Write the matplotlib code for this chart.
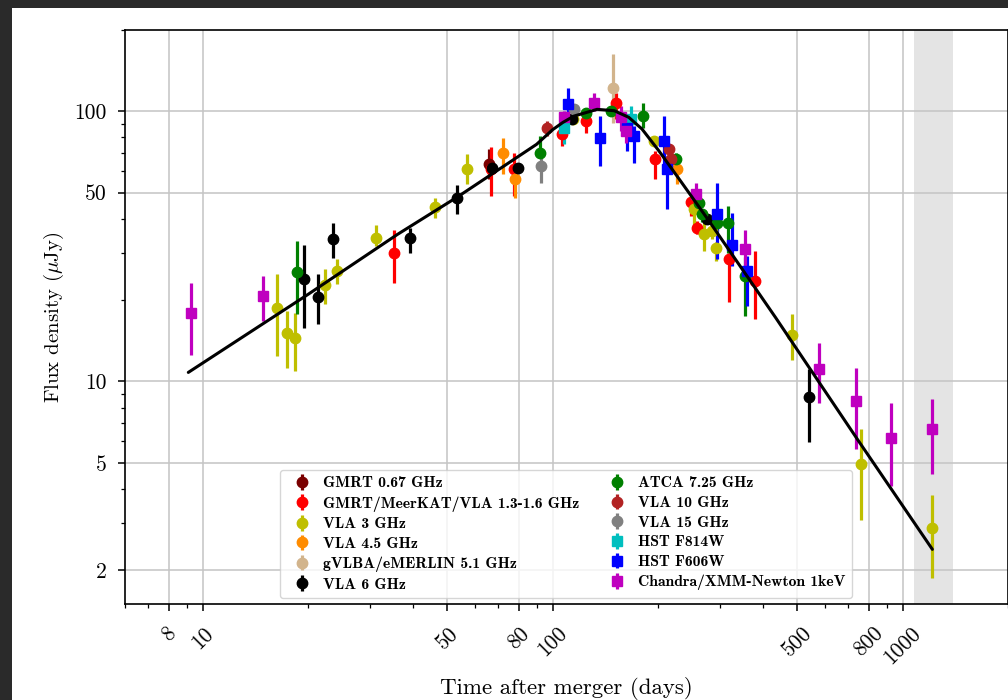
import numpy as np
import matplotlib
matplotlib.use("Agg")
import matplotlib.pyplot as plt
from matplotlib.patches import Rectangle
from matplotlib.ticker import FixedLocator, FixedFormatter, LogLocator, NullFormatter

plt.rcParams['font.family'] = ['cmr10']
plt.rcParams['mathtext.fontset'] = 'cm'
plt.rcParams['axes.unicode_minus'] = False
plt.rcParams['axes.formatter.use_mathtext'] = True

# Each measurement: (days after merger, flux density, lower bound, upper bound) in microJy
gmrt067 = [(65.8, 63.7, 56.0, 72.3)]

gmrt_meerkat_vla = [
    (35.2, 30.0, 23.1, 36.3), (66.5, 61.0, 48.4, 73.6), (77.3, 61.0, 48.6, 70.3),
    (106.6, 82.2, 74.4, 87.3), (124.2, 92.1, 83.4, 96.1), (151.4, 107.7, 93.3, 117.2),
    (195.5, 66.8, 56.0, 71.3), (249.0, 46.1, 40.9, 48.6), (258.8, 37.1, 35.0, 39.2),
    (319.0, 28.3, 19.6, 30.0), (377.6, 23.5, 17.0, 30.4),
]

vla3 = [
    (16.3, 18.7, 12.4, 24.9), (17.4, 15.1, 11.2, 18.2), (18.3, 14.5, 10.9, 17.9),
    (22.3, 22.7, 19.3, 26.0), (24.2, 25.6, 22.9, 28.3), (31.2, 34.1, 31.6, 37.8),
    (46.1, 44.4, 40.4, 47.9), (56.8, 61.4, 53.7, 69.3), (114.4, 93.3, 90.0, 97.0),
    (194.6, 77.6, 74.2, 81.0), (253.5, 43.4, 38.1, 45.2), (270.4, 35.0, 30.4, 38.8),
    (285.8, 36.1, 33.6, 38.1), (292.3, 31.3, 27.9, 32.7), (484.0, 14.8, 12.0, 17.7),
    (758.6, 4.93, 3.08, 6.64), (1216.0, 2.87, 1.88, 3.81),
]

vla45 = [(72.2, 70.3, 58.4, 79.9), (78.3, 56.0, 47.9, 60.1), (227.0, 61.0, 53.7, 64.6)]

vlbi51 = [(149.0, 122.4, 90.8, 162.6)]

vla6 = [
    (19.5, 24.0, 15.8, 32.1), (21.3, 20.6, 16.3, 24.9), (23.6, 33.6, 28.7, 38.5),
    (39.1, 34.1, 30.0, 37.1), (53.2, 47.9, 41.6, 53.2), (67.3, 61.8, 58.4, 65.5),
    (79.8, 61.8, 59.3, 64.6), (113.8, 94.0, 91.0, 97.0), (276.6, 39.8, 38.6, 41.0),
    (539.6, 8.78, 5.96, 11.1),
]

atca725 = [
    (18.6, 25.4, 17.7, 33.1), (92.1, 70.3, 67.4, 81.0), (124.2, 98.9, 93.3, 103.2),
    (146.6, 100.3, 97.0, 104.0), (181.6, 96.1, 87.0, 107.7), (224.6, 66.4, 62.0, 70.0),
    (261.9, 45.9, 42.8, 48.0), (266.6, 41.6, 39.0, 43.0), (295.0, 38.7, 36.0, 41.6),
    (316.9, 38.5, 30.0, 44.6), (355.0, 24.5, 17.4, 29.0),
]

vla10 = [(96.6, 87.0, 81.0, 92.1), (215.0, 72.3, 67.4, 75.5), (217.7, 66.4, 63.0, 70.0)]

vla15 = [(92.4, 62.7, 54.5, 69.3), (115.1, 101.6, 97.0, 106.0)]

hst_f814w = [(107.6, 87.0, 75.5, 93.3), (167.2, 93.3, 84.6, 104.6)]

hst_f606w = [
    (110.6, 106.1, 93.3, 122.4), (136.2, 79.9, 62.7, 96.1), (163.4, 87.0, 71.3, 93.3),
    (170.6, 81.0, 64.6, 88.0), (207.8, 77.6, 61.0, 96.1), (212.7, 61.0, 43.4, 68.3),
    (294.2, 41.6, 28.3, 54.5), (326.0, 32.1, 26.7, 42.2), (358.2, 25.6, 19.0, 29.1),
]

xray_1kev = [
    (9.24, 17.9, 12.5, 23.1), (14.9, 20.8, 16.7, 24.5), (107.6, 94.9, 88.0, 100.3),
    (131.2, 107.7, 100.3, 117.2), (156.3, 94.9, 84.6, 104.6), (161.7, 84.6, 76.6, 93.3),
    (256.3, 49.3, 45.9, 54.5), (353.7, 31.0, 26.7, 36.5), (576.8, 11.1, 8.34, 13.9),
    (734.0, 8.45, 5.60, 11.2), (929.0, 6.15, 4.09, 8.34), (1216.0, 6.64, 4.56, 8.58),
]

# Best-fit light curve
fit_t = [9.1, 20, 36, 54, 77, 90, 100, 107, 115, 134, 150, 165, 180, 201, 232, 277, 434, 743, 1216]
fit_f = [10.8, 21.0, 35.0, 48.6, 66.0, 75.5, 85.5, 91.0, 96.0, 101.7, 100.5, 95.0, 86.0, 71.5,
         55.2, 40.0, 17.2, 6.1, 2.39]

# Late-time window shaded in grey
shade_window = (1080, 1390)

x_ticks = [8, 10, 50, 80, 100, 500, 800, 1000]
x_ticklabels = ['8', '10', '50', '80', '100', '500', '800', '1000']
y_ticks = [2, 5, 10, 50, 100]
y_ticklabels = ['2', '5', '10', '50', '100']

series = [
    ('GMRT 0.67 GHz', gmrt067, '#7a0000', 'o'),
    ('GMRT/MeerKAT/VLA 1.3-1.6 GHz', gmrt_meerkat_vla, '#ff0000', 'o'),
    ('VLA 3 GHz', vla3, '#bfbf00', 'o'),
    ('VLA 4.5 GHz', vla45, '#ff8c00', 'o'),
    ('gVLBA/eMERLIN 5.1 GHz', vlbi51, '#d2b48c', 'o'),
    ('VLA 6 GHz', vla6, '#000000', 'o'),
    ('ATCA 7.25 GHz', atca725, '#008000', 'o'),
    ('VLA 10 GHz', vla10, '#b22222', 'o'),
    ('VLA 15 GHz', vla15, '#808080', 'o'),
    ('HST F814W', hst_f814w, '#00bfbf', 's'),
    ('HST F606W', hst_f606w, '#0000ff', 's'),
    ('Chandra/XMM-Newton 1keV', xray_1kev, '#bf00bf', 's'),
]

W, H = 1008, 700
fig = plt.figure(figsize=(W / 100, H / 100), dpi=100, facecolor='#2a2a2a')
fig.patches.append(Rectangle((12 / W, 0), 1 - 12 / W, 1 - 8 / H, transform=fig.transFigure,
                             facecolor='white', edgecolor='none', zorder=-10))

ax = fig.add_axes([125 / W, 1 - 604 / H, 1 - 125 / W, 574 / H])
ax.set_xscale('log')
ax.set_yscale('log')

ax.axvspan(*shade_window, color='#e4e4e4', zorder=0, lw=0)

for label, data, color, marker in series:
    arr = np.array(data)
    t, f, lo, hi = arr.T
    ax.errorbar(t, f, yerr=[f - lo, hi - f], fmt=marker, color=color,
                ms=7.5 if marker == 'o' else 7, elinewidth=2.3, capsize=0,
                label=label, zorder=3)

ax.plot(fit_t, fit_f, color='black', lw=2.2, zorder=4, solid_capstyle='round')

ax.set_xlim(6, 2000)
ax.set_ylim(1.5, 200)

ax.xaxis.set_major_locator(FixedLocator(x_ticks))
ax.xaxis.set_major_formatter(FixedFormatter(x_ticklabels))
ax.xaxis.set_minor_locator(LogLocator(base=10, subs=np.arange(2, 10)))
ax.xaxis.set_minor_formatter(NullFormatter())
ax.yaxis.set_major_locator(FixedLocator(y_ticks))
ax.yaxis.set_major_formatter(FixedFormatter(y_ticklabels))
ax.yaxis.set_minor_locator(LogLocator(base=10, subs=np.arange(2, 10)))
ax.yaxis.set_minor_formatter(NullFormatter())

ax.tick_params(which='major', direction='out', length=5, width=1.1, labelsize=15.5)
ax.tick_params(axis='x', which='major', pad=9)
ax.tick_params(axis='y', which='major', pad=8)
ax.tick_params(which='minor', direction='out', length=3, width=0.9)
for lab in ax.get_xticklabels():
    lab.set_rotation(45)
    lab.set_ha('center')

ax.set_axisbelow(True)
ax.grid(True, which='major', color='#c4c4c4', lw=1.1)
for sp in ax.spines.values():
    sp.set_linewidth(1.2)

ax.set_xlabel('Time after merger (days)', fontsize=16.5)
ax.xaxis.set_label_coords(0.5, -0.128)
ax.set_ylabel(r'Flux density ($\mu$Jy)', fontsize=15, labelpad=6)

leg = ax.legend(ncol=2, loc='lower left', bbox_to_anchor=(155 / 882, 6 / 574), borderaxespad=0,
                prop={'family': 'cmb10', 'size': 11.3}, labelspacing=0.36,
                handlelength=2.0, handletextpad=0.35, columnspacing=1.4,
                framealpha=0.8, edgecolor='#cccccc', fancybox=True)

fig.savefig('out.png', dpi=100, facecolor=fig.get_facecolor())
